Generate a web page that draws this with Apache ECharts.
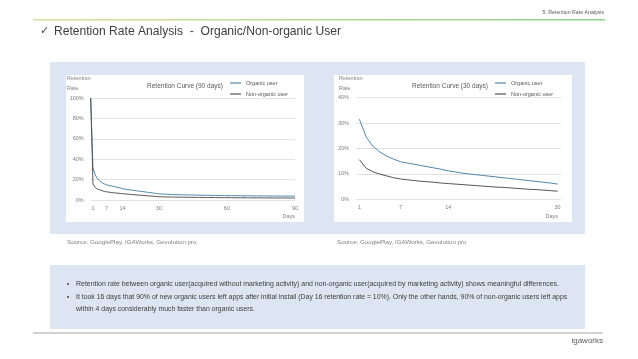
<!DOCTYPE html>
<html><head><meta charset="utf-8">
<script src="https://cdn.jsdelivr.net/npm/echarts@6/dist/echarts.min.js"></script>
<style>html,body{margin:0;padding:0;background:#fff}#c{width:638px;height:359px}</style>
</head><body><div id="c"></div>
<script>
// ---- data ----
const legendNames = ['Organic user', 'Non-organic user'];
// 30-day curve (days 1..30)
const days30 = ['1','2','3','4','5','6','7','8','9','10','11','12','13','14','15','16','17','18','19','20','21','22','23','24','25','26','27','28','29','30'];
const organic30 = [31.5,24.5,20.8,18.6,17.0,15.8,14.8,14.3,13.8,13.3,12.8,12.3,11.8,11.2,10.8,10.3,10.0,9.7,9.4,9.1,8.8,8.5,8.2,7.9,7.6,7.3,7.0,6.7,6.4,6.0];
const nonOrganic30 = [15.6,12.2,10.8,9.9,9.2,8.5,8.0,7.7,7.4,7.1,6.9,6.7,6.4,6.2,6.0,5.8,5.6,5.4,5.2,5.0,4.8,4.7,4.5,4.3,4.1,3.9,3.8,3.6,3.4,3.2];
const ticks30 = ['1','7','14','30'];
// 90-day curve (day 0, days 1..30 above, days 31..90)
const organicDay0 = 100;
const nonOrganicDay0 = 100;
const organicTail = [5.9,5.8,5.7,5.6,5.5,5.4,5.3,5.3,5.2,5.1,5.1,5.0,5.0,4.9,4.9,4.8,4.8,4.7,4.7,4.6,4.6,4.6,4.5,4.5,4.5,4.4,4.4,4.4,4.3,4.3,
  4.3,4.3,4.2,4.2,4.2,4.2,4.1,4.1,4.1,4.1,4.1,4.0,4.0,4.0,4.0,4.0,4.0,3.9,3.9,3.9,3.9,3.9,3.9,3.9,3.8,3.8,3.8,3.8,3.8,3.8];
const nonOrganicTail = [3.1,3.1,3.0,3.0,2.9,2.9,2.9,2.8,2.8,2.8,2.7,2.7,2.7,2.6,2.6,2.6,2.6,2.5,2.5,2.5,2.5,2.4,2.4,2.4,2.4,2.4,2.3,2.3,2.3,2.3,
  2.3,2.3,2.2,2.2,2.2,2.2,2.2,2.2,2.1,2.1,2.1,2.1,2.1,2.1,2.1,2.1,2.0,2.0,2.0,2.0,2.0,2.0,2.0,2.0,2.0,2.0,1.9,1.9,1.9,1.9];
const ticks90 = ['1','7','14','30','60','90'];

const organic90 = [organicDay0].concat(organic30, organicTail);
const nonOrganic90 = [nonOrganicDay0].concat(nonOrganic30, nonOrganicTail);
const days90 = organic90.map((v, i) => String(i));

// ---- styling ----
const SANS = '"Liberation Sans",sans-serif';
const C_ORG = '#4f87aa';
const C_NON = '#555555';
const GRID_C = '#dadada';
const LBL = '#7f7f7f';

function yAxis(gi, max, interval) {
  return {
    type: 'value', gridIndex: gi, min: 0, max: max, interval: interval,
    axisLine: {show: false}, axisTick: {show: false},
    splitLine: {lineStyle: {color: GRID_C, width: 0.8}},
    axisLabel: {formatter: '{value}%', fontSize: 5.5, color: LBL, fontFamily: SANS, margin: 7}
  };
}
function xAxis(gi, cats, shown, gap) {
  return {
    type: 'category', gridIndex: gi, data: cats, boundaryGap: gap,
    axisLine: {show: false}, axisTick: {show: false},
    axisLabel: {interval: (i, v) => shown.indexOf(v) >= 0, fontSize: 5.5, color: LBL, fontFamily: SANS, margin: 5}
  };
}
function line(name, gi, data, color, w) {
  return {type: 'line', name: name, xAxisIndex: gi, yAxisIndex: gi, data: data, symbol: 'none', showSymbol: false,
          smooth: false, lineStyle: {color: color, width: w}, itemStyle: {color: color}, z: 5};
}
function legend(left) {
  return {data: legendNames.map(n => ({name: n, icon: 'rect'})), left: left, top: 79.5, orient: 'vertical', padding: 0,
          itemWidth: 11, itemHeight: 1.2, itemGap: 4,
          textStyle: {fontSize: 5.5, color: '#595959', fontFamily: SANS, lineHeight: 7}, selectedMode: false};
}
function txt(text, x, y, size, color, align, sx, extraStyle) {
  return {type: 'text', z: 20, x: x, y: y, scaleX: sx || 1,
    style: Object.assign({text: text, x: 0, y: 0, fontSize: size, fill: color,
      fontFamily: SANS, textAlign: align || 'left', textVerticalAlign: 'middle'}, extraStyle || {})};
}

const chart = echarts.init(document.getElementById('c'), null, {renderer: 'canvas'});
chart.setOption({
  animation: false,
  backgroundColor: '#ffffff',
  grid: [
    {left: 90.7, right: 343, top: 98, bottom: 159},
    {left: 356, right: 77, top: 97.7, bottom: 159.7}
  ],
  xAxis: [xAxis(0, days90, ticks90, false), xAxis(1, days30, ticks30, true)],
  yAxis: [yAxis(0, 100, 20), yAxis(1, 40, 10)],
  legend: [legend(230), legend(495)],
  series: [
    line(legendNames[0], 0, organic90, C_ORG, 1),
    line(legendNames[1], 0, nonOrganic90, C_NON, 1),
    line(legendNames[0], 1, organic30, C_ORG, 1),
    line(legendNames[1], 1, nonOrganic30, C_NON, 1)
  ],
  graphic: [
    {type: 'rect', z: -10, shape: {x: 50, y: 62, width: 535, height: 172}, style: {fill: '#dce5f1'}},
    {type: 'rect', z: -9, shape: {x: 66, y: 75, width: 238, height: 147}, style: {fill: '#ffffff'}},
    {type: 'rect', z: -9, shape: {x: 334, y: 75, width: 238, height: 147}, style: {fill: '#ffffff'}},
    {type: 'rect', z: -10, shape: {x: 50, y: 265, width: 535, height: 64}, style: {fill: '#dce5f1'}},
    {type: 'rect', z: -10, shape: {x: 33, y: 19, width: 572, height: 1.5},
      style: {fill: new echarts.graphic.LinearGradient(0, 0, 1, 0, [{offset: 0, color: '#d7e09c'}, {offset: 1, color: '#8fd08f'}])}},
    {type: 'rect', z: -10, shape: {x: 33, y: 332.5, width: 570, height: 1}, style: {fill: '#a6a6a6'}},
    txt('5. Retention Rate Analysis', 604, 12, 6, '#595959', 'right', 0.87),
    txt('\u2713', 40, 31, 11, '#404040', 'left', 1, {fontFamily: '"DejaVu Sans",sans-serif'}),
    txt('Retention Rate Analysis  -  Organic/Non-organic User', 54, 31, 13, '#404040', 'left', 0.93),
    // chart 1 texts
    txt('Retention\nRate', 67, 83, 5.5, '#7f7f7f', 'left', 1, {lineHeight: 10}),
    txt('Retention Curve (90 days)', 185, 86, 6.5, '#595959', 'center'),
    txt('Days', 295, 216, 5.5, '#7f7f7f', 'right'),
    // chart 2 texts
    txt('Retention\nRate', 339, 83, 5.5, '#7f7f7f', 'left', 1, {lineHeight: 10}),
    txt('Retention Curve (30 days)', 450, 86, 6.5, '#595959', 'center'),
    txt('Days', 558, 216, 5.5, '#7f7f7f', 'right'),
    // sources
    txt('Source: GooglePlay, IGAWorks, Gevolution pro', 67, 242, 6.2, '#7f7f7f'),
    txt('Source: GooglePlay, IGAWorks, Gevolution pro', 337, 242, 6.2, '#7f7f7f'),
    // bullets
    txt('\u2022', 67, 284, 6.5, '#404040'),
    txt('Retention rate between organic user(acquired without marketing activity) and non-organic user(acquired by marketing activity) shows meaningful differences.', 76, 284, 7, '#404040', 'left', 0.995),
    txt('\u2022', 67, 297, 6.5, '#404040'),
    txt('It took 16 days that 90% of new organic users left apps after initial install (Day 16 retention rate = 10%). Only the other hands, 90% of non-organic users left apps', 76, 297, 7, '#404040', 'left', 0.985),
    txt('within 4 days considerably much faster than organic users.', 76, 309, 7, '#404040', 'left', 0.985),
    txt('igaworks', 603, 341, 8, '#595959', 'right')
  ]
});
</script>
</body></html>
